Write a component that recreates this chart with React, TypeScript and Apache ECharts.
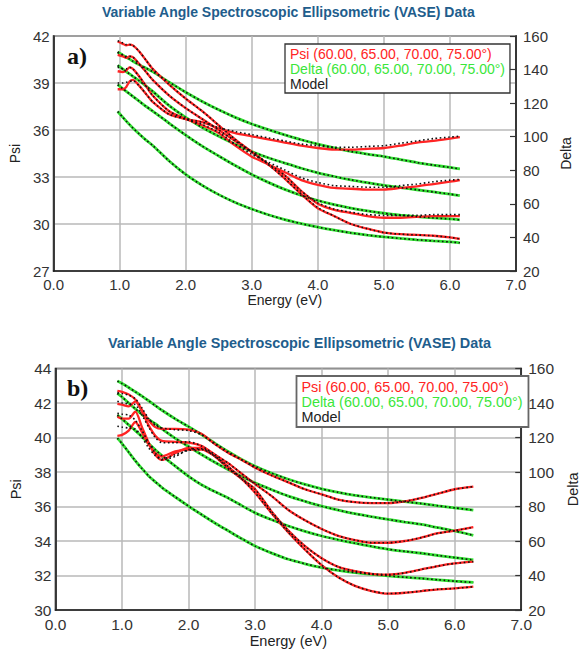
import React, { useEffect, useRef } from "react";
import * as echarts from "echarts";

// ---------- data ----------
const energyA = [0.97, 1.05, 1.1, 1.15, 1.2, 1.3, 1.4, 1.5, 1.75, 2.0, 2.25, 2.5, 2.75, 3.0, 3.25, 3.5, 3.75, 4.0, 4.25, 4.5, 4.75, 5.0, 5.25, 5.5, 5.75, 6.0, 6.15];

const psiA1 = [41.65, 41.5, 41.4, 41.45, 41.4, 41.0, 40.45, 39.9, 38.9, 38.0, 37.2, 36.3, 35.4, 34.6, 33.8, 32.9, 31.9, 31.0, 30.5, 30.0, 29.7, 29.45, 29.35, 29.3, 29.25, 29.15, 29.05];
const psiA2 = [40.8, 40.7, 40.6, 40.7, 40.65, 40.2, 39.7, 39.2, 38.2, 37.4, 36.7, 36.0, 35.3, 34.6, 33.8, 33.1, 32.1, 31.3, 30.9, 30.7, 30.5, 30.4, 30.4, 30.45, 30.5, 30.5, 30.5];
const psiA3 = [39.75, 39.7, 39.8, 40.0, 39.9, 39.4, 38.8, 38.2, 37.2, 36.7, 36.3, 35.8, 35.0, 34.3, 33.8, 33.3, 32.8, 32.5, 32.3, 32.25, 32.2, 32.2, 32.3, 32.4, 32.55, 32.7, 32.8];
const psiA4 = [38.6, 38.6, 38.75, 39.1, 39.2, 38.8, 38.3, 37.8, 37.0, 36.7, 36.5, 36.1, 35.8, 35.6, 35.4, 35.2, 35.0, 34.85, 34.75, 34.75, 34.8, 34.85, 35.0, 35.2, 35.3, 35.45, 35.55];

const psiModelA1 = [41.7, 41.55, 41.45, 41.45, 41.4, 41.0, 40.45, 39.9, 38.9, 38.0, 37.2, 36.3, 35.4, 34.6, 33.8, 32.9, 31.9, 31.05, 30.5, 30.0, 29.7, 29.45, 29.35, 29.3, 29.25, 29.15, 29.05];
const psiModelA2 = [40.95, 40.8, 40.7, 40.7, 40.65, 40.2, 39.7, 39.2, 38.2, 37.4, 36.7, 36.0, 35.3, 34.6, 33.85, 33.1, 32.1, 31.35, 30.95, 30.75, 30.6, 30.55, 30.55, 30.55, 30.6, 30.6, 30.6];
const psiModelA3 = [40.0, 39.9, 39.9, 40.0, 39.9, 39.4, 38.8, 38.2, 37.2, 36.7, 36.35, 35.85, 35.1, 34.45, 33.95, 33.45, 32.95, 32.65, 32.45, 32.4, 32.35, 32.35, 32.45, 32.55, 32.7, 32.8, 32.85];
const psiModelA4 = [39.0, 39.0, 39.05, 39.1, 39.15, 38.8, 38.3, 37.8, 37.0, 36.7, 36.5, 36.15, 35.9, 35.7, 35.5, 35.3, 35.1, 35.0, 34.9, 34.9, 34.95, 35.0, 35.15, 35.3, 35.45, 35.55, 35.6];

const deltaA1 = [150.5, 148.5, 147.3, 146.2, 145.0, 142.8, 140.8, 138.8, 132.5, 126.5, 121.0, 116.0, 111.5, 107.6, 104.2, 101.1, 98.2, 95.6, 93.3, 91.2, 89.6, 88.2, 86.4, 84.6, 83.1, 81.7, 80.8];
const deltaA2 = [142.5, 140.3, 138.8, 137.4, 136.0, 133.2, 130.1, 127.0, 118.5, 111.5, 105.5, 100.3, 95.5, 91.2, 87.5, 84.3, 81.2, 78.5, 76.3, 74.3, 72.6, 71.0, 69.7, 68.4, 67.1, 65.8, 64.9];
const deltaA3 = [131.0, 128.5, 127.0, 125.5, 124.0, 121.0, 118.0, 115.3, 108.0, 101.0, 94.4, 88.5, 82.8, 77.5, 72.8, 68.6, 65.0, 62.0, 59.5, 57.5, 55.8, 54.4, 53.3, 52.4, 51.6, 51.0, 50.5];
const deltaA4 = [115.0, 111.5, 109.3, 107.2, 105.2, 101.5, 98.0, 94.8, 85.5, 77.5, 71.0, 65.5, 60.8, 56.9, 53.5, 50.6, 48.2, 46.1, 44.3, 42.7, 41.4, 40.3, 39.4, 38.6, 37.9, 37.3, 36.8];

const energyB = [0.93, 1.0, 1.1, 1.2, 1.3, 1.4, 1.5, 1.6, 1.8, 2.0, 2.2, 2.4, 2.6, 2.8, 3.0, 3.25, 3.5, 3.75, 4.0, 4.25, 4.5, 4.75, 5.0, 5.25, 5.5, 5.75, 6.0, 6.28];

const psiB1 = [40.1, 40.15, 40.4, 40.9, 40.3, 39.6, 39.1, 38.9, 39.2, 39.3, 39.3, 38.9, 38.3, 37.6, 36.8, 35.6, 34.5, 33.5, 32.6, 31.9, 31.4, 31.1, 30.95, 31.0, 31.1, 31.2, 31.25, 31.35];
const psiB2 = [41.2, 41.1, 41.1, 41.5, 40.6, 39.7, 39.0, 38.7, 39.1, 39.4, 39.4, 38.9, 38.2, 37.6, 37.0, 35.7, 34.6, 33.7, 33.0, 32.5, 32.25, 32.1, 32.05, 32.15, 32.35, 32.55, 32.7, 32.8];
const psiB3 = [41.95, 41.9, 41.8, 42.1, 41.5, 40.7, 40.1, 39.8, 39.75, 39.7, 39.5, 39.0, 38.5, 37.9, 37.3, 36.6, 35.8, 35.2, 34.7, 34.3, 34.05, 33.9, 33.9, 34.0, 34.2, 34.45, 34.6, 34.8];
const psiB4 = [42.7, 42.65, 42.5, 42.2, 41.6, 41.0, 40.6, 40.5, 40.5, 40.45, 40.2, 39.6, 39.1, 38.7, 38.25, 37.8, 37.4, 37.0, 36.7, 36.4, 36.25, 36.2, 36.2, 36.3, 36.5, 36.75, 37.0, 37.15];

const psiModelB1 = [40.65, 40.6, 40.55, 40.5, 40.0, 39.4, 38.95, 38.75, 39.0, 39.25, 39.3, 38.9, 38.3, 37.6, 36.8, 35.6, 34.5, 33.5, 32.6, 31.9, 31.4, 31.1, 30.95, 31.0, 31.1, 31.2, 31.25, 31.35];
const psiModelB2 = [41.4, 41.35, 41.3, 41.0, 40.4, 39.7, 39.1, 38.7, 38.9, 39.3, 39.35, 38.9, 38.2, 37.6, 37.0, 35.7, 34.6, 33.7, 33.0, 32.5, 32.25, 32.1, 32.05, 32.15, 32.35, 32.55, 32.7, 32.8];
const psiModelB3 = [42.1, 42.0, 41.95, 41.9, 41.3, 40.6, 40.0, 39.7, 39.7, 39.75, 39.5, 39.0, 38.5, 37.9, 37.3, 36.6, 35.8, 35.2, 34.7, 34.3, 34.05, 33.9, 33.9, 34.0, 34.2, 34.45, 34.6, 34.8];
const psiModelB4 = [42.6, 42.55, 42.45, 42.25, 41.7, 41.1, 40.7, 40.55, 40.45, 40.4, 40.15, 39.6, 39.1, 38.7, 38.25, 37.8, 37.4, 37.0, 36.7, 36.4, 36.25, 36.2, 36.2, 36.3, 36.5, 36.75, 37.0, 37.15];

const deltaB1 = [152.7, 151.3, 149.0, 146.5, 144.0, 141.3, 138.5, 135.8, 130.8, 126.3, 121.6, 116.6, 111.7, 107.2, 103.3, 99.3, 95.8, 92.8, 90.2, 88.2, 86.5, 85.2, 84.0, 82.8, 81.7, 80.4, 79.2, 77.9];
const deltaB2 = [145.6, 143.5, 140.0, 136.6, 133.3, 130.5, 128.0, 125.0, 119.5, 114.8, 110.0, 105.5, 101.3, 97.4, 93.7, 89.7, 86.0, 83.0, 80.2, 77.9, 75.8, 74.1, 72.5, 71.0, 69.6, 67.7, 65.8, 63.3];
const deltaB3 = [133.0, 130.8, 127.3, 124.0, 120.5, 116.5, 112.9, 109.5, 103.4, 97.5, 92.5, 88.5, 84.8, 80.5, 76.3, 72.3, 68.7, 65.6, 62.9, 60.7, 58.7, 56.9, 55.2, 54.0, 52.9, 51.6, 50.4, 49.0];
const deltaB4 = [119.6, 116.5, 111.5, 106.5, 102.0, 97.7, 94.3, 91.0, 85.5, 80.2, 75.2, 70.3, 65.8, 61.3, 57.1, 53.0, 49.4, 46.8, 44.6, 43.0, 41.7, 40.7, 39.8, 39.0, 38.3, 37.5, 36.7, 36.0];

const TITLE = "Variable Angle Spectroscopic Ellipsometric (VASE) Data";
const PSI_NAME = "Psi (60.00, 65.00, 70.00, 75.00°)";
const DELTA_NAME = "Delta (60.00, 65.00, 70.00, 75.00°)";
const MODEL_NAME = "Model";

// ---------- styles ----------
const FONT = "Liberation Sans, Arial, Helvetica, sans-serif";
const RED = "#ff2424";
const GREEN = "#30e030";
const FRAME = "#1e1e1e";

function mkLine(name: string, xs: number[], ys: number[], xi: number, yi: number, lineStyle: any, z: number) {
  return {
    type: "line",
    name,
    xAxisIndex: xi,
    yAxisIndex: yi,
    data: xs.map((x, i) => [x, ys[i]]),
    symbol: "none",
    showSymbol: false,
    smooth: 0.25,
    silent: true,
    z,
    lineStyle,
    itemStyle: { color: lineStyle.color },
  };
}

const psiStyle = { color: RED, width: 2.3 };
const deltaStyle = { color: GREEN, width: 2.8 };
const modelStyle = { color: "#111111", width: 1.6, type: [1.6, 2.6], cap: "butt" };

function xAxisDef(gridIndex: number, fs: number, gap: number) {
  return {
    type: "value",
    gridIndex,
    min: 0,
    max: 7,
    interval: 1,
    name: "Energy (eV)",
    nameLocation: "middle",
    nameGap: gap,
    nameTextStyle: { fontFamily: FONT, fontSize: fs - 1, color: "#222" },
    axisLine: { show: true, onZero: false, lineStyle: { color: FRAME, width: 1.6 } },
    axisTick: { show: false },
    axisLabel: { fontFamily: FONT, fontSize: fs, color: "#333", margin: 6, formatter: (v: number) => v.toFixed(1) },
    splitLine: { show: true, lineStyle: { color: "#b8b8b8", width: 1.5 } },
  };
}

function psiAxisDef(gridIndex: number, min: number, max: number, interval: number, fs: number, gap: number) {
  return {
    type: "value",
    gridIndex,
    position: "left",
    min,
    max,
    interval,
    name: "Psi",
    nameLocation: "middle",
    nameGap: gap,
    nameTextStyle: { fontFamily: FONT, fontSize: fs - 1, color: "#222" },
    axisLine: { show: true, lineStyle: { color: FRAME, width: 1.6 } },
    axisTick: { show: false },
    axisLabel: { fontFamily: FONT, fontSize: fs, color: "#333", margin: 4 },
    splitLine: { show: true, lineStyle: { color: "#b8b8b8", width: 1.5 } },
  };
}

function deltaAxisDef(gridIndex: number, fs: number, gap: number) {
  return {
    type: "value",
    gridIndex,
    position: "right",
    min: 20,
    max: 160,
    interval: 20,
    name: "Delta",
    nameLocation: "middle",
    nameGap: gap,
    nameTextStyle: { fontFamily: FONT, fontSize: fs - 1, color: "#222" },
    axisLine: { show: true, lineStyle: { color: FRAME, width: 1.6 } },
    axisTick: { show: true, inside: true, length: 6, lineStyle: { color: "#333", width: 1.2 } },
    axisLabel: { fontFamily: FONT, fontSize: fs, color: "#333", margin: 7 },
    splitLine: { show: false },
  };
}

function legendDef(left: number, top: number, fs: number, padding: number[], borderColor: string, borderWidth: number) {
  return {
    orient: "vertical",
    left,
    top,
    padding,
    itemGap: 1,
    itemWidth: 0,
    itemHeight: 14,
    icon: "none",
    selectedMode: false,
    backgroundColor: "#ffffff",
    borderColor,
    borderWidth,
    textStyle: { fontFamily: FONT, fontSize: fs, color: "#222" },
    data: [
      { name: PSI_NAME, icon: "none", textStyle: { color: RED } },
      { name: DELTA_NAME, icon: "none", textStyle: { color: "#3ae63a" } },
      { name: MODEL_NAME, icon: "none", textStyle: { color: "#222" } },
    ],
  };
}

export default function App() {
  const ref = useRef<HTMLDivElement>(null);

  useEffect(() => {
    if (!ref.current) return;
    const chart = echarts.init(ref.current, undefined, { renderer: "svg" });

    const psiA = [psiA1, psiA2, psiA3, psiA4];
    const psiMA = [psiModelA1, psiModelA2, psiModelA3, psiModelA4];
    const delA = [deltaA1, deltaA2, deltaA3, deltaA4];
    const psiB = [psiB1, psiB2, psiB3, psiB4];
    const psiMB = [psiModelB1, psiModelB2, psiModelB3, psiModelB4];
    const delB = [deltaB1, deltaB2, deltaB3, deltaB4];

    const series: any[] = [];
    delA.forEach((d) => series.push(mkLine(DELTA_NAME, energyA, d, 0, 1, deltaStyle, 2)));
    psiA.forEach((p) => series.push(mkLine(PSI_NAME, energyA, p, 0, 0, psiStyle, 3)));
    delA.forEach((d) => series.push(mkLine(MODEL_NAME, energyA, d, 0, 1, modelStyle, 4)));
    psiMA.forEach((p) => series.push(mkLine(MODEL_NAME, energyA, p, 0, 0, modelStyle, 4)));

    delB.forEach((d) => series.push(mkLine(DELTA_NAME, energyB, d, 1, 3, deltaStyle, 2)));
    psiB.forEach((p) => series.push(mkLine(PSI_NAME, energyB, p, 1, 2, psiStyle, 3)));
    delB.forEach((d) => series.push(mkLine(MODEL_NAME, energyB, d, 1, 3, modelStyle, 4)));
    psiMB.forEach((p) => series.push(mkLine(MODEL_NAME, energyB, p, 1, 2, modelStyle, 4)));

    const option: any = {
      animation: false,
      backgroundColor: "#ffffff",
      title: [
        {
          text: TITLE,
          left: 102,
          top: 5,
          padding: 0,
          textStyle: { fontFamily: FONT, fontSize: 14, fontWeight: "bold", color: "#215d8c" },
        },
        {
          text: TITLE,
          left: 108,
          top: 336,
          padding: 0,
          textStyle: { fontFamily: FONT, fontSize: 14.4, fontWeight: "bold", color: "#215d8c" },
        },
      ],
      grid: [
        { left: 52, top: 36, width: 464, height: 235, show: true, borderColor: FRAME, borderWidth: 1.6, backgroundColor: "transparent" },
        { left: 55.5, top: 368.5, width: 480, height: 242, show: true, borderColor: FRAME, borderWidth: 1.6, backgroundColor: "transparent" },
      ],
      xAxis: [xAxisDef(0, 15, 22), xAxisDef(1, 15.5, 23)],
      yAxis: [
        psiAxisDef(0, 27, 42, 3, 15, 20),
        deltaAxisDef(0, 15, 29),
        psiAxisDef(1, 30, 44, 2, 15.5, 21),
        deltaAxisDef(1, 15.5, 33),
      ],
      legend: [
        legendDef(285, 44, 14, [3, 5, 2, 0], "#333", 1.3),
        legendDef(296.5, 376, 14.4, [4, 6, 3, 0], "#666", 1.8),
      ],
      graphic: [
        {
          type: "text",
          left: 67,
          top: 44,
          z: 10,
          style: { text: "a)", fontFamily: "Liberation Serif, Times New Roman, serif", fontSize: 24, fontWeight: "bold", fill: "#111" },
        },
        {
          type: "text",
          left: 67,
          top: 376,
          z: 10,
          style: { text: "b)", fontFamily: "Liberation Serif, Times New Roman, serif", fontSize: 24, fontWeight: "bold", fill: "#111" },
        },
      ],
      series,
    };

    chart.setOption(option);
    return () => chart.dispose();
  }, []);

  return (
    <div
      ref={ref}
      style={{ position: "absolute", left: 0, top: 0, width: 588, height: 649, background: "#fff" }}
    />
  );
}
